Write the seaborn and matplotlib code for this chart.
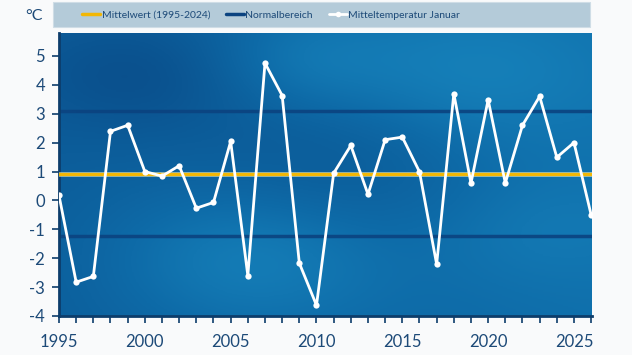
import numpy as np
import pandas as pd
import matplotlib
matplotlib.use("Agg")
import matplotlib.pyplot as plt
import seaborn as sns
from matplotlib.colors import LinearSegmentedColormap
from matplotlib.lines import Line2D
from matplotlib.patches import Rectangle

years = list(range(1995, 2027))
temps = [0.17, -2.83, -2.63, 2.39, 2.6, 1.0, 0.84, 1.2, -0.27, -0.07,
         2.04, -2.6, 4.75, 3.63, -2.17, -3.63, 0.94, 1.9, 0.21, 2.1,
         2.19, 0.99, -2.21, 3.69, 0.6, 3.48, 0.6, 2.6, 3.6, 1.49,
         2.0, -0.5]
mean_value = 0.92
normal_upper = 3.1
normal_lower = -1.23
y_ticks = [-4, -3, -2, -1, 0, 1, 2, 3, 4, 5]
x_major = [1995, 2000, 2005, 2010, 2015, 2020, 2025]
legend_labels = ["Mittelwert (1995-2024)", "Normalbereich", "Mitteltemperatur Januar"]

df = pd.DataFrame({"Jahr": years, "Temperatur": temps})

sns.set_theme(style="white")
plt.rcParams["font.family"] = ["Lato", "DejaVu Sans"]

txt = "#1d4a78"
fig = plt.figure(figsize=(6.32, 3.55), dpi=100, facecolor="#f9fafb")
ax = fig.add_axes([59/632, 1-316/355, 533/632, (316-32.5)/355])
ax.set_facecolor("#0d6aa6")

xlim = (1995, 2026.05)
ylim = (-4, 5.81)

# cloudy blue background
gy, gx = np.mgrid[0:1:200j, 0:1:400j]
field = 0.45 + 0.25 * gx
for cx, cy, s, a in [(0.35, 0.2, 0.18, 0.35), (0.75, 0.85, 0.2, 0.3), (0.15, 0.85, 0.15, -0.25),
                     (0.55, 0.55, 0.2, -0.2), (0.9, 0.3, 0.15, 0.15), (0.45, 0.9, 0.12, 0.2)]:
    field += a * np.exp(-((gx - cx) ** 2 + (gy - cy) ** 2) / (2 * s ** 2))
cmap = LinearSegmentedColormap.from_list("bg", ["#0a4f8c", "#0e6ba8", "#1a8cc3"])
ax.imshow(field, cmap=cmap, vmin=0.2, vmax=1.1, aspect="auto", origin="lower",
          extent=[xlim[0], xlim[1], ylim[0], ylim[1]], zorder=0)

ax.axhline(normal_upper, color="#0b4380", lw=2.5, alpha=0.9, zorder=2)
ax.axhline(normal_lower, color="#0b4380", lw=2.5, alpha=0.9, zorder=2)
ax.axhline(mean_value, color="#fff3b0", lw=3.5, alpha=0.6, zorder=3)
ax.axhline(mean_value, color="#f2b705", lw=2.2, zorder=3)

sns.lineplot(data=df, x="Jahr", y="Temperatur", ax=ax, color="white", lw=2,
             marker="o", markersize=4.5, markeredgewidth=0, zorder=4, legend=False)

ax.set_xlim(*xlim)
ax.set_ylim(*ylim)
ax.set_xlabel("")
ax.set_ylabel("")
ax.set_yticks(y_ticks)
ax.set_yticklabels([str(v) for v in y_ticks])
ax.set_xticks(x_major)
ax.set_xticklabels([str(v) for v in x_major])
ax.set_xticks(years, minor=True)
ax.tick_params(axis="both", which="both", colors="#0d3d6b", labelcolor=txt, labelsize=12)
ax.tick_params(axis="x", which="both", direction="out", length=5, width=1.2, bottom=True, pad=8)
ax.tick_params(axis="y", direction="out", length=5, width=1.2, left=True, pad=5)
for side in ["top", "right"]:
    ax.spines[side].set_visible(False)
for side in ["left", "bottom"]:
    ax.spines[side].set_color("#0d3d6b")
    ax.spines[side].set_linewidth(2)

# legend box
fig.patches.append(Rectangle((53/632, 1-27/355), 537/632, 25/355, transform=fig.transFigure,
                             facecolor="#b4cbd9", edgecolor="#cfdde6", lw=0.8, zorder=0))
handles = [Line2D([0], [0], color="#f2b705", lw=2.5),
           Line2D([0], [0], color="#0b4380", lw=2.5),
           Line2D([0], [0], color="white", lw=2, marker="o", markersize=4, markeredgewidth=0)]
leg = fig.legend(handles, legend_labels, loc="center", bbox_to_anchor=(271/632, 1-15/355),
                 ncol=3, frameon=False, fontsize=7.5, handlelength=1.8, handletextpad=0.1,
                 columnspacing=1.5, labelcolor=txt)

fig.text(34/632, 1-16/355, "°C", color=txt, fontsize=11.5, ha="center", va="center")

fig.savefig("out.png", dpi=100, facecolor=fig.get_facecolor())
